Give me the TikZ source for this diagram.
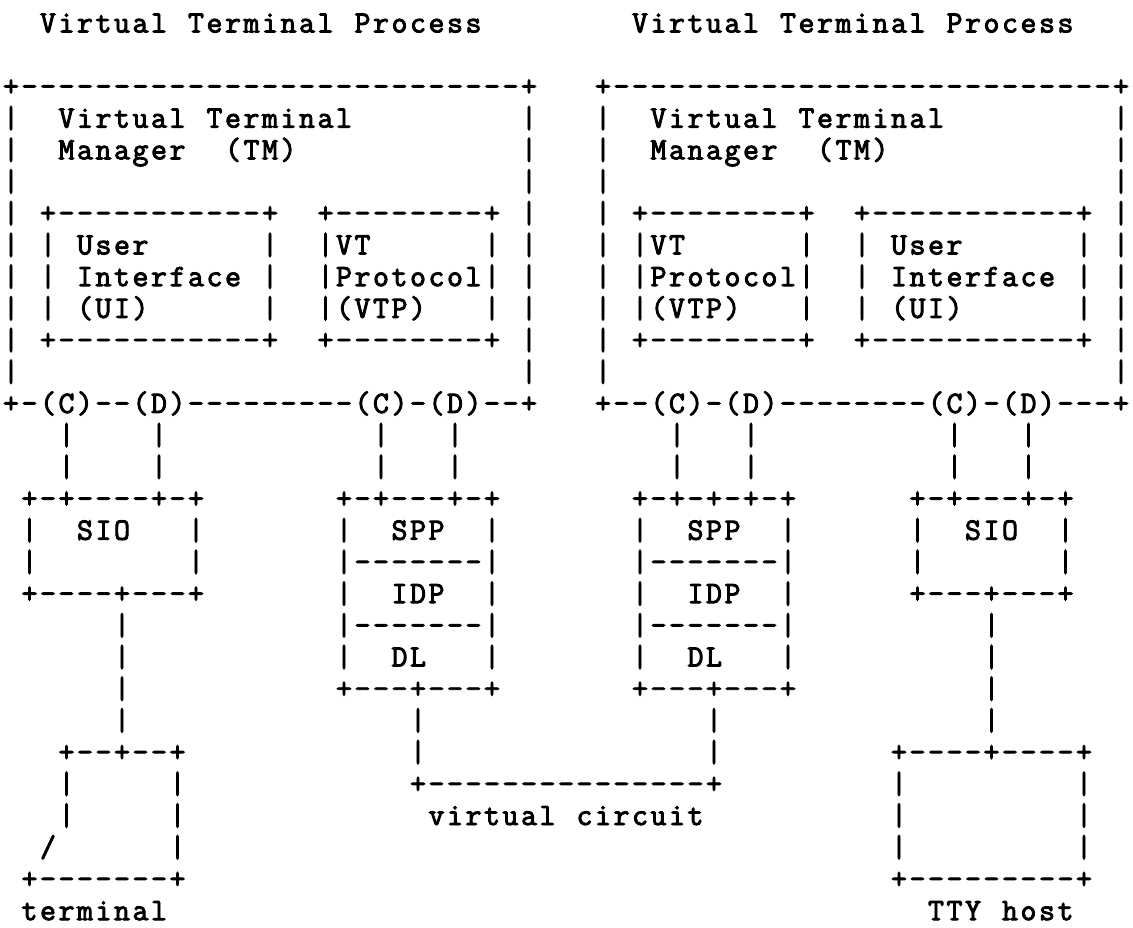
\documentclass[tikz,border=0pt]{standalone}
\usepackage{fontspec}
\newfontfamily\gridfont{Latin Modern Mono}[FakeBold=3]
\makeatletter
% place a run of characters (no spaces) on a fixed character grid:
% #1 = line, #2 = first column, #3 = characters
\newcount\gridcol
\newcommand\R[3]{%
  \gridcol=#2\relax
  \@tfor\gridch:=#3\do{%
    \node[glyph, name=g#1x\the\gridcol] at ({11pt+\the\gridcol*18.5pt},{-32.5pt-#1*31.7pt}) {\gridch};%
    \advance\gridcol by 1\relax}}
\makeatother
\begin{document}
\begin{tikzpicture}[
  glyph/.style={font=\gridfont\fontsize{31pt}{31.7pt}\selectfont,
                anchor=base, inner sep=0pt, outer sep=0pt, text=black}]
\useasboundingbox[fill=white] (0,0) rectangle (1133pt,-928pt);
% titles
\R{0}{2}{Virtual}\R{0}{10}{Terminal}\R{0}{19}{Process}
\R{0}{34}{Virtual}\R{0}{42}{Terminal}\R{0}{51}{Process}
% terminal manager boxes
\R{2}{0}{+---------------------------+}
\R{2}{32}{+---------------------------+}
\R{3}{0}{|}\R{3}{3}{Virtual}\R{3}{11}{Terminal}\R{3}{28}{|}
\R{3}{32}{|}\R{3}{35}{Virtual}\R{3}{43}{Terminal}\R{3}{60}{|}
\R{4}{0}{|}\R{4}{3}{Manager}\R{4}{12}{(TM)}\R{4}{28}{|}
\R{4}{32}{|}\R{4}{35}{Manager}\R{4}{44}{(TM)}\R{4}{60}{|}
\R{5}{0}{|}\R{5}{28}{|}\R{5}{32}{|}\R{5}{60}{|}
% inner UI / VTP boxes
\R{6}{0}{|}\R{6}{2}{+-----------+}\R{6}{17}{+--------+}\R{6}{28}{|}
\R{6}{32}{|}\R{6}{34}{+--------+}\R{6}{46}{+-----------+}\R{6}{60}{|}
\R{7}{0}{|}\R{7}{2}{|}\R{7}{4}{User}\R{7}{14}{|}\R{7}{17}{|VT}\R{7}{26}{|}\R{7}{28}{|}
\R{7}{32}{|}\R{7}{34}{|VT}\R{7}{43}{|}\R{7}{46}{|}\R{7}{48}{User}\R{7}{58}{|}\R{7}{60}{|}
\R{8}{0}{|}\R{8}{2}{|}\R{8}{4}{Interface}\R{8}{14}{|}\R{8}{17}{|Protocol|}\R{8}{28}{|}
\R{8}{32}{|}\R{8}{34}{|Protocol|}\R{8}{46}{|}\R{8}{48}{Interface}\R{8}{58}{|}\R{8}{60}{|}
\R{9}{0}{|}\R{9}{2}{|}\R{9}{4}{(UI)}\R{9}{14}{|}\R{9}{17}{|(VTP)}\R{9}{26}{|}\R{9}{28}{|}
\R{9}{32}{|}\R{9}{34}{|(VTP)}\R{9}{43}{|}\R{9}{46}{|}\R{9}{48}{(UI)}\R{9}{58}{|}\R{9}{60}{|}
\R{10}{0}{|}\R{10}{2}{+-----------+}\R{10}{17}{+--------+}\R{10}{28}{|}
\R{10}{32}{|}\R{10}{34}{+--------+}\R{10}{46}{+-----------+}\R{10}{60}{|}
\R{11}{0}{|}\R{11}{28}{|}\R{11}{32}{|}\R{11}{60}{|}
% control and data ports
\R{12}{0}{+-(C)--(D)---------(C)-(D)--+}
\R{12}{32}{+--(C)-(D)--------(C)-(D)---+}
\R{13}{3}{|}\R{13}{8}{|}\R{13}{20}{|}\R{13}{24}{|}\R{13}{36}{|}\R{13}{40}{|}\R{13}{51}{|}\R{13}{55}{|}
\R{14}{3}{|}\R{14}{8}{|}\R{14}{20}{|}\R{14}{24}{|}\R{14}{36}{|}\R{14}{40}{|}\R{14}{51}{|}\R{14}{55}{|}
% SIO and protocol stacks
\R{15}{1}{+-+----+-+}\R{15}{18}{+-+---+-+}\R{15}{34}{+-+-+-+-+}\R{15}{49}{+-+---+-+}
\R{16}{1}{|}\R{16}{4}{SIO}\R{16}{10}{|}
\R{16}{18}{|}\R{16}{21}{SPP}\R{16}{26}{|}
\R{16}{34}{|}\R{16}{37}{SPP}\R{16}{42}{|}
\R{16}{49}{|}\R{16}{52}{SIO}\R{16}{57}{|}
\R{17}{1}{|}\R{17}{10}{|}\R{17}{18}{|-------|}\R{17}{34}{|-------|}\R{17}{49}{|}\R{17}{57}{|}
\R{18}{1}{+----+---+}
\R{18}{18}{|}\R{18}{21}{IDP}\R{18}{26}{|}
\R{18}{34}{|}\R{18}{37}{IDP}\R{18}{42}{|}
\R{18}{49}{+---+---+}
\R{19}{6}{|}\R{19}{18}{|-------|}\R{19}{34}{|-------|}\R{19}{53}{|}
\R{20}{6}{|}\R{20}{18}{|}\R{20}{21}{DL}\R{20}{26}{|}\R{20}{34}{|}\R{20}{37}{DL}\R{20}{42}{|}\R{20}{53}{|}
\R{21}{6}{|}\R{21}{18}{+---+---+}\R{21}{34}{+---+---+}\R{21}{53}{|}
\R{22}{6}{|}\R{22}{22}{|}\R{22}{38}{|}\R{22}{53}{|}
% terminal, virtual circuit and host
\R{23}{3}{+--+--+}\R{23}{22}{|}\R{23}{38}{|}\R{23}{48}{+----+----+}
\R{24}{3}{|}\R{24}{9}{|}\R{24}{22}{+---------------+}\R{24}{48}{|}\R{24}{58}{|}
\R{25}{3}{|}\R{25}{9}{|}\R{25}{23}{virtual}\R{25}{31}{circuit}\R{25}{48}{|}\R{25}{58}{|}
\R{26}{2}{/}\R{26}{9}{|}\R{26}{48}{|}\R{26}{58}{|}
\R{27}{1}{+-------+}\R{27}{48}{+---------+}
\R{28}{1}{terminal}\R{28}{50}{TTY}\R{28}{54}{host}
\end{tikzpicture}
\end{document}
